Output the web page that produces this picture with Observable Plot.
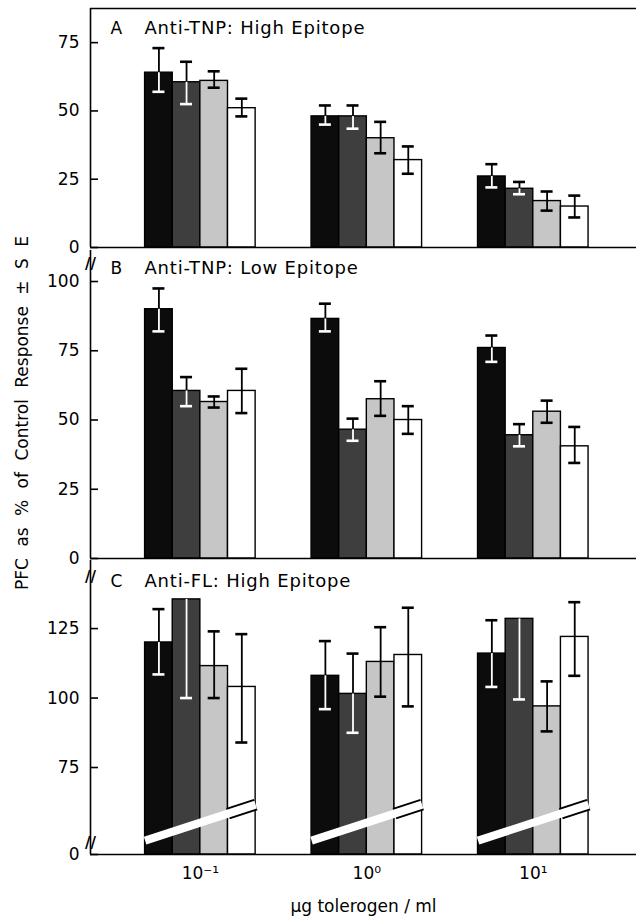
<!DOCTYPE html>
<html><head><meta charset="utf-8">
<script src="https://cdn.jsdelivr.net/npm/d3@7"></script>
<script src="https://cdn.jsdelivr.net/npm/@observablehq/plot@0.6"></script>
<style>
body{margin:0;background:#fff;}
#wrap{position:relative;width:636px;height:919px;overflow:hidden;font-family:"DejaVu Sans",sans-serif;}
#wrap svg{display:block;}
#wrap svg .ttl text{letter-spacing:0.8px;}
#ylab{position:absolute;left:22px;top:413px;transform:translate(-50%,-50%) rotate(-90deg);white-space:nowrap;font-size:17px;word-spacing:6px;color:#000;}
</style></head><body>
<div id="wrap"><div id="ylab">PFC as % of Control Response ± S E</div></div>
<script>
// ---------- data ----------
const doses = ["10⁻¹", "10⁰", "10¹"];
const seriesFill = ["#0c0c0c", "#3e3e3e", "#c6c6c6", "#ffffff"];
// values ordered dose-major: [dose0: s1..s4, dose1: s1..s4, dose2: s1..s4]
const aMean = [64, 60.5, 61, 51,   48, 48, 40, 32,   26, 21.5, 17, 15];
const aLo   = [57, 52.5, 58.5, 48, 45, 43.5, 34.5, 27, 22, 19.5, 13.5, 11];
const aHi   = [73, 68, 64.5, 54.5, 52, 52, 46, 37,   30.5, 24, 20.5, 19];
const bMean = [90, 60.5, 56.5, 60.5,  86.5, 46.5, 57.5, 50,  76, 44.5, 53, 40.5];
const bLo   = [82, 55, 54.5, 52.5,    82, 42.5, 51.5, 45,    71, 40.5, 49, 34.5];
const bHi   = [97.5, 65.5, 58.5, 68.5, 92, 50.5, 64, 55,     80.5, 48.5, 57, 47.5];
const cMean = [120, 135.5, 111.5, 104,  108, 101.5, 113, 115.5,  116, 128.5, 97, 122];
const cLo   = [108.5, 100, 100, 84,     96, 87.5, 100.5, 97,     104, 99.5, 88, 108];
const cHi   = [132, 135.5, 124, 123,    120.5, 116, 125.5, 132.5, 128, 128.5, 106, 134.5];
const aTicks = [0, 25, 50, 75];
const bTicks = [0, 25, 50, 75, 100];
const cTicks = [0, 75, 100, 125];

// ---------- layout helpers ----------
const FONT = "DejaVu Sans, sans-serif";
const W = 0.166;                 // bar width in dose units
const xDomain = [-0.66, 2.62];
const pxPerUnit = 546 / (xDomain[1] - xDomain[0]);
const cap = 6 / pxPerUnit;
const tickLen = 8 / pxPerUnit;
const errLow = ["#fff", "#fff", "#000", "#000"];
const identity = v => v;

function rows(mean, lo, hi, f) {
  return mean.map((v, k) => {
    const d = Math.floor(k / 4), s = k % 4;
    const x1 = d - 2 * W + s * W;
    return {d, s, v: f(v), lo: f(lo[k]), hi: f(hi[k]), x1, x2: x1 + W, xc: x1 + W / 2};
  });
}

function panel({mean, lo, hi, height, marginTop, marginBottom, y, ticks, letter, title, titleDy, f = identity, extra = [], after = []}) {
  const data = rows(mean, lo, hi, f);
  const base = f(0);
  return Plot.plot({
    width: 636, height, marginLeft: 90, marginRight: 0, marginTop, marginBottom,
    style: {fontFamily: FONT, fontSize: "17px", color: "#000", background: "transparent", overflow: "visible"},
    x: {domain: xDomain, axis: null},
    y: {...y, axis: null},
    color: {type: "identity"},
    marks: [
      Plot.rect(data, {x1: "x1", x2: "x2", y1: base, y2: "v", fill: d => seriesFill[d.s], stroke: "#000", strokeWidth: 1.4}),
      Plot.ruleX(data.filter(d => d.hi > d.v), {x: "xc", y1: "v", y2: "hi", stroke: "#000", strokeWidth: 1.8}),
      Plot.ruleX(data, {x: "xc", y1: "lo", y2: "v", stroke: d => errLow[d.s], strokeWidth: 1.8}),
      Plot.ruleY(data.filter(d => d.hi > d.v), {y: "hi", x1: d => d.xc - cap, x2: d => d.xc + cap, stroke: "#000", strokeWidth: 2.6}),
      Plot.ruleY(data, {y: "lo", x1: d => d.xc - cap, x2: d => d.xc + cap, stroke: d => errLow[d.s], strokeWidth: 2.6}),
      ...extra,
      Plot.ruleY([base], {stroke: "#000", strokeWidth: 1.6}),
      Plot.ruleX([xDomain[0]], {stroke: "#000", strokeWidth: 1.6}),
      Plot.ruleY(ticks.map(f), {y: d => d, x1: xDomain[0], x2: xDomain[0] + tickLen, stroke: "#000", strokeWidth: 1.6}),
      Plot.axisY({ticks: ticks.map(f), tickSize: 0, tickPadding: 11, fontSize: 17, tickFormat: (t, i) => String(ticks[i])}),
      Plot.text([letter], {frameAnchor: "top-left", dx: 20, dy: titleDy, textAnchor: "start", lineAnchor: "middle", fontSize: 17}),
      Plot.text([title], {frameAnchor: "top-left", dx: 54, dy: titleDy, textAnchor: "start", lineAnchor: "middle", fontSize: 18, className: "ttl"}),
      ...after
    ]
  });
}

const slash = (opts) => Plot.text(["//"], {fontSize: 15, fontWeight: "bold", fill: "#000", textAnchor: "middle", lineAnchor: "middle", ...opts});

const wrap = document.getElementById("wrap");

// Panel A
const aDomain = [0, 87.5];
wrap.appendChild(panel({
  mean: aMean, lo: aLo, hi: aHi, height: 250, marginTop: 8, marginBottom: 3,
  y: {domain: aDomain}, ticks: aTicks, letter: "A", title: "Anti-TNP: High Epitope", titleDy: 20,
  extra: [Plot.ruleY([aDomain[1]], {stroke: "#000", strokeWidth: 1.6})]
}));

// Panel B
wrap.appendChild(panel({
  mean: bMean, lo: bLo, hi: bHi, height: 310, marginTop: 0, marginBottom: 2,
  y: {domain: [0, 111.2]}, ticks: bTicks, letter: "B", title: "Anti-TNP: Low Epitope", titleDy: 18,
  after: [slash({frameAnchor: "top-left", dy: 14})]
}));

// Panel C (broken axis: values below 75 are compressed into the break region)
const breakAt = 75, breakSpan = 31.3;
const brk = v => v >= breakAt ? v : breakAt - (breakAt - v) * breakSpan / breakAt;
const band = [];
const bandEdge = [];
[0, 1, 2].forEach(d => {
  band.push({d, x: d - 2 * W, y: brk(12)}, {d, x: d + 2 * W, y: brk(43)});
  bandEdge.push({d, x: d + W, y: brk(12 + 31 * 0.75)}, {d, x: d + 2 * W, y: brk(43)});
});
wrap.appendChild(panel({
  mean: cMean, lo: cLo, hi: cHi, height: 359, marginTop: 0, marginBottom: 65,
  y: {domain: [brk(0), 149.5]}, ticks: cTicks, f: brk, letter: "C", title: "Anti-FL: High Epitope", titleDy: 21,
  extra: [
    Plot.line(bandEdge, {x: "x", y: "y", z: "d", stroke: "#000", strokeWidth: 12, strokeLinecap: "butt"}),
    Plot.line(band, {x: "x", y: "y", z: "d", stroke: "#fff", strokeWidth: 8, strokeLinecap: "butt"}),
    Plot.axisX({ticks: [0, 1, 2], tickFormat: i => doses[i], tickSize: 0, tickPadding: 12, fontSize: 17}),
    Plot.text(["μg tolerogen / ml"], {frameAnchor: "bottom", dy: 52, lineAnchor: "middle", fontSize: 17})
  ],
  after: [
    slash({frameAnchor: "top-left", dy: 17}),
    slash({y: brk(10), frameAnchor: "left"})
  ]
}));
</script>
</body></html>
